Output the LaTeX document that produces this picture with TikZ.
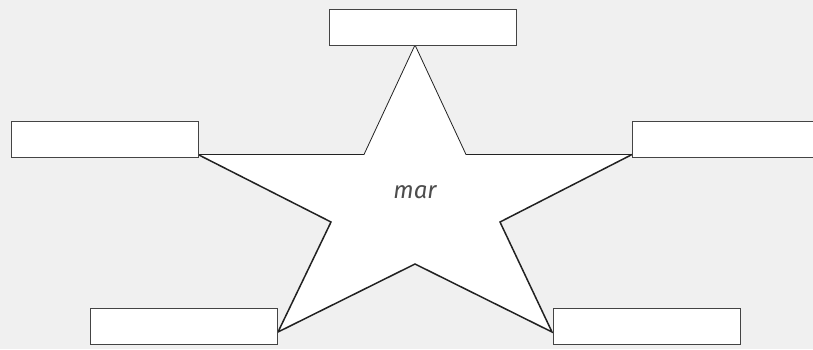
\documentclass[tikz,border=0pt]{standalone}
\usepackage{fontspec}
\setmainfont{Fira Sans}
\definecolor{bg}{HTML}{F0F0F0}
\definecolor{boxline}{HTML}{444444}
\definecolor{starline}{HTML}{222222}
\definecolor{txt}{HTML}{4D4D4D}
\begin{document}
\begin{tikzpicture}[x=1pt,y=-1pt,
  label box/.style={draw=boxline,fill=white,line width=0.9pt},
  thinedge/.style={draw=starline,line width=0.8pt,line join=miter},
  thickedge/.style={draw=starline,line width=1.5pt,line join=miter}]
\fill[bg] (0,0) rectangle (813,349);
\useasboundingbox (0,0) rectangle (813,349);
% star vertices
\coordinate (T) at (415,45);
\coordinate (L) at (198,154.5);
\coordinate (R) at (632,154.5);
\coordinate (BL) at (278,332);
\coordinate (BR) at (552,332);
\coordinate (iTL) at (364,154.5);
\coordinate (iTR) at (466,154.5);
\coordinate (iL) at (331,222);
\coordinate (iR) at (500,222);
\coordinate (iB) at (415,264);
\fill[white] (T) -- (iTR) -- (R) -- (iR) -- (BR) -- (iB) -- (BL) -- (iL) -- (L) -- (iTL) -- cycle;
\draw[thinedge] (L) -- (iTL) -- (T) -- (iTR) -- (R);
\draw[thickedge] (L) -- (iL) -- (BL) -- (iB) -- (BR) -- (iR) -- (R);
% boxes
\draw[label box] (329,9) rectangle (516,45);
\draw[label box] (11,121) rectangle (198,157);
\draw[label box] (632,121) rectangle (820,157);
\draw[label box] (90,308) rectangle (277,344);
\draw[label box] (553,308) rectangle (740,344);
\node[text=txt,font=\itshape\fontsize{24}{28}\selectfont] (m) at (415,192) {mar};
\end{tikzpicture}
\end{document}
